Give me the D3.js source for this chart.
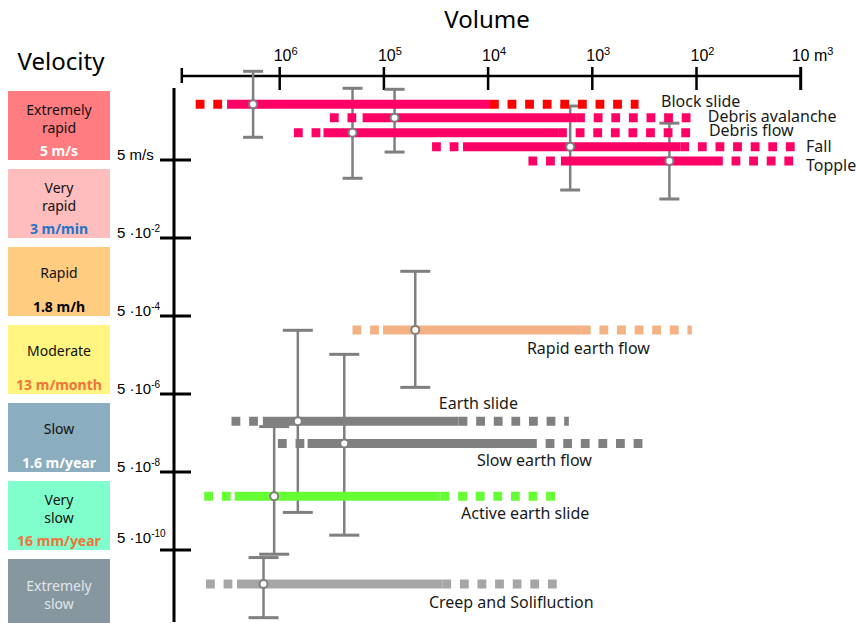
<!DOCTYPE html>
<html>
<head>
<meta charset="utf-8">
<script src="https://cdn.jsdelivr.net/npm/d3@7"></script>
<style>
  body { margin: 0; background: #fff; }
  svg { display: block; }
</style>
</head>
<body>
<div id="vis"></div>
<script>
// velocity classes (left column)
const classNames = [["Extremely", "rapid"], ["Very", "rapid"], ["Rapid"], ["Moderate"], ["Slow"], ["Very", "slow"], ["Extremely", "slow"]]
const classSpeeds = ["5 m/s", "3 m/min", "1.8 m/h", "13 m/month", "1.6 m/year", "16 mm/year", ""]
const classBounds = [500, 5, 5e-2, 5e-4, 5e-6, 5e-8, 5e-10, 5e-12]
const classColors = ["#FF7C80", "#FFBDBD", "#FFCC80", "#FFF580", "#8AADC0", "#80FFCC", "#86979F"]
const speedColors = ["#ffffff", "#1F74C8", "#000000", "#F0733A", "#ffffff", "#F0733A", "#000000"]

// axes
const volMax = 8.7e6
const volTicks = [1e6, 1e5, 1e4, 1e3, 1e2, 10]
const volTickLabels = [["10", "6"], ["10", "5"], ["10", "4"], ["10", "3"], ["10", "2"], ["10 m", "3"]]
const velTicks = [5, 5e-2, 5e-4, 5e-6, 5e-8, 5e-10]
const velTickLabels = [["5 m/s", ""], ["5 \u00b710", "-2"], ["5 \u00b710", "-4"], ["5 \u00b710", "-6"], ["5 \u00b710", "-8"], ["5 \u00b710", "-10"]]

// landslide types
const types = ["Block slide", "Debris avalanche", "Debris flow", "Fall", "Topple",
  "Rapid earth flow", "Earth slide", "Slow earth flow", "Active earth slide", "Creep and Solifluction"]
const volDashFrom = [6.4e6, 3.3e5, 7.3e5, 3.45e4, 4.1e3, 2.0e5, 2.9e6, 1.04e6, 5.3e6, 5.1e6]
const volSolidFrom = [3.2e6, 1.6e5, 3.8e5, 1.74e4, 2.0e3, 1.02e5, 1.45e6, 5.4e5, 2.7e6, 2.57e6]
const volSolidTo = [9.6e3, 1.43e3, 2.13e3, 143, 68, 1.26e3, 1.92e4, 4.14e3, 2.86e4, 2.75e4]
const volDashTo = [360, 108, 108, 11, 11.3, 111, 1.68e3, 326, 2.23e3, 2.14e3]
const volMid = [1.8e6, 7.9e4, 2.0e5, 1.63e3, 182, 5.0e4, 6.7e5, 2.4e5, 1.13e6, 1.43e6]
const velMid = [134, 61, 25, 11, 4.7, 2.2e-4, 1.0e-6, 2.7e-7, 1.2e-8, 6.7e-11]
const velHigh = [940, 325, 345, 121, 44, 7.0e-3, 2.15e-4, 5.2e-5, 7.3e-7, 3.2e-10]
const velLow = [19.1, 8.0, 1.7, 0.85, 0.5, 7.4e-6, 4.6e-9, 1.2e-9, 3.9e-10, 9.2e-12]
const labelVol = [219, 78, 76, 8.9, 8.9, 4240, 2.97e4, 1.28e4, 1.82e4, 3.7e4]
const labelVel = [156, 64, 28, 11, 3.7, 7.4e-5, 2.9e-6, 1.0e-7, 4.4e-9, 2.3e-11]
const barColors = ["#FF0066", "#FF0066", "#FF0066", "#FF0066", "#FF0066", "#F4B183", "#808080", "#808080", "#66FF33", "#A6A6A6"]
const dashColors = ["#FF0000", "#FF0066", "#FF0066", "#FF0066", "#FF0066", "#F4B183", "#808080", "#808080", "#66FF33", "#A6A6A6"]

const W = 857, H = 623
const sans = "'Noto Sans', 'Open Sans', sans-serif"
const arial = "'Liberation Sans', Arial, sans-serif"

const x = d3.scaleLog().domain([10, 1e6]).range([800.7, 279.7])
const y = d3.scaleLog().domain([5, 5e-10]).range([160, 550])

const svg = d3.select("#vis").append("svg")
  .attr("width", W)
  .attr("height", H)

// titles
svg.append("text")
  .attr("x", 487).attr("y", 28)
  .attr("text-anchor", "middle")
  .style("font-family", sans).style("font-size", "24px")
  .text("Volume")

svg.append("text")
  .attr("x", 61).attr("y", 70)
  .attr("text-anchor", "middle")
  .style("font-family", sans).style("font-size", "24px")
  .text("Velocity")

// velocity class boxes
const boxes = svg.append("g")
classNames.forEach((names, i) => {
  const top = y(classBounds[i]) + 9
  const bottom = Math.min(y(classBounds[i + 1]), H)
  boxes.append("rect")
    .attr("x", 8).attr("y", top)
    .attr("width", 102).attr("height", bottom - top)
    .attr("fill", classColors[i])
  const hasSpeed = classSpeeds[i] !== ""
  let lineYs
  if (names.length === 1) lineYs = [top + 26]
  else if (hasSpeed) lineYs = [top + 19, top + 37]
  else lineYs = [top + 27, top + 45]
  names.forEach((n, j) => {
    boxes.append("text")
      .attr("x", 59).attr("y", lineYs[j])
      .attr("dy", "0.35em")
      .attr("text-anchor", "middle")
      .attr("fill", hasSpeed ? "#111" : "#E2E6E8")
      .style("font-family", sans).style("font-size", "14px")
      .text(n)
  })
  if (hasSpeed) {
    boxes.append("text")
      .attr("x", 59).attr("y", bottom - 9)
      .attr("dy", "0.35em")
      .attr("text-anchor", "middle")
      .attr("fill", speedColors[i])
      .style("font-family", sans).style("font-size", "14px").style("font-weight", "bold")
      .text(classSpeeds[i])
  }
})

// top volume axis
const topAxis = svg.append("g")
topAxis.append("line")
  .attr("x1", x(volMax)).attr("x2", x(10))
  .attr("y1", 76).attr("y2", 76)
  .attr("stroke", "#000").attr("stroke-width", 2.5)
topAxis.append("line")
  .attr("x1", x(volMax)).attr("x2", x(volMax))
  .attr("y1", 68).attr("y2", 83)
  .attr("stroke", "#000").attr("stroke-width", 2.5)
volTicks.forEach((v, i) => {
  topAxis.append("line")
    .attr("x1", x(v)).attr("x2", x(v))
    .attr("y1", 67).attr("y2", 90)
    .attr("stroke", "#000").attr("stroke-width", i === volTicks.length - 1 ? 3 : 2.5)
  const t = topAxis.append("text")
    .attr("x", x(v) - (i === volTicks.length - 1 ? 9 : 6)).attr("y", 61)
    .style("font-family", arial).style("font-size", "16px")
  t.append("tspan").text(volTickLabels[i][0])
  t.append("tspan").attr("dy", -6).style("font-size", "11px").text(volTickLabels[i][1])
})

// left velocity axis
const leftAxis = svg.append("g")
leftAxis.append("line")
  .attr("x1", 174).attr("x2", 174)
  .attr("y1", 88).attr("y2", 622)
  .attr("stroke", "#000").attr("stroke-width", 3)
velTicks.forEach((v, i) => {
  leftAxis.append("line")
    .attr("x1", 160).attr("x2", 191)
    .attr("y1", y(v)).attr("y2", y(v))
    .attr("stroke", "#000").attr("stroke-width", 3)
  const t = leftAxis.append("text")
    .attr("x", 117).attr("y", y(v) - (i === velTicks.length - 1 ? 7 : 0))
    .style("font-family", arial).style("font-size", "15px")
  t.append("tspan").text(velTickLabels[i][0])
  if (velTickLabels[i][1]) {
    t.append("tspan").attr("dy", -6).style("font-size", "10px").text(velTickLabels[i][1])
  }
})

// error bars (velocity ranges)
const errs = svg.append("g")
types.forEach((name, i) => {
  const cx = x(volMid[i])
  const cap = i < 5 ? 10 : 15
  errs.append("line")
    .attr("x1", cx).attr("x2", cx)
    .attr("y1", y(velHigh[i])).attr("y2", y(velLow[i]))
    .attr("stroke", "#7F7F7F").attr("stroke-width", 2.5)
  ;[velHigh[i], velLow[i]].forEach(v => {
    errs.append("line")
      .attr("x1", cx - cap).attr("x2", cx + cap)
      .attr("y1", y(v)).attr("y2", y(v))
      .attr("stroke", "#7F7F7F").attr("stroke-width", 3)
  })
})

// volume ranges: dotted left and right ends, solid core
const bars = svg.append("g")
types.forEach((name, i) => {
  const by = y(velMid[i])
  const segs = [
    [volDashFrom[i], volSolidFrom[i], true],
    [volSolidTo[i], volDashTo[i], true],
    [volSolidFrom[i], volSolidTo[i], false]
  ]
  segs.forEach(([a, b, dashed]) => {
    bars.append("line")
      .attr("x1", x(a)).attr("x2", x(b))
      .attr("y1", by).attr("y2", by)
      .attr("stroke", dashed ? dashColors[i] : barColors[i])
      .attr("stroke-width", 9)
      .attr("stroke-dasharray", dashed ? "8.8 8.8" : null)
  })
})

// markers
svg.append("g").selectAll("circle")
  .data(types)
  .join("circle")
  .attr("cx", (d, i) => x(volMid[i]))
  .attr("cy", (d, i) => y(velMid[i]))
  .attr("r", 4)
  .attr("fill", "#fff")
  .attr("stroke", "#7F7F7F")
  .attr("stroke-width", 2)

// type labels
svg.append("g").selectAll("text")
  .data(types)
  .join("text")
  .attr("x", (d, i) => x(labelVol[i]))
  .attr("y", (d, i) => y(labelVel[i]))
  .attr("dy", "0.35em")
  .attr("fill", "#1a1a1a")
  .style("font-family", sans).style("font-size", "16px")
  .text(d => d)
</script>
</body>
</html>
